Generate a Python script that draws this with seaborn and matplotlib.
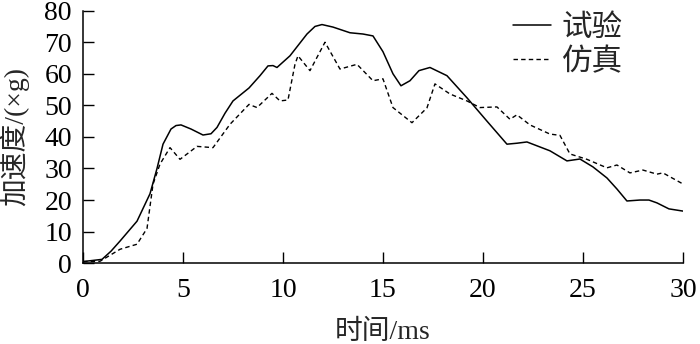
import matplotlib
matplotlib.use("Agg")
import matplotlib.pyplot as plt
import seaborn as sns

# 试验 (test) curve
t_test = [0, 0.95, 1.4, 1.85, 2.7, 3.35, 3.7, 4.0, 4.4, 4.65, 4.9, 5.4, 6.0, 6.4,
          6.7, 7.1, 7.5, 8.3, 8.85, 9.25, 9.5, 9.7, 10.35, 11.2, 11.6, 11.95, 12.5,
          13.35, 14.0, 14.5, 15.0, 15.5, 15.9, 16.35, 16.8, 17.35, 18.2, 19.2, 20.2,
          21.2, 21.7, 22.2, 23.35, 24.2, 24.85, 25.5, 26.2, 26.7, 27.2, 27.85, 28.3,
          28.7, 29.3, 30]
a_test = [0.5, 1.2, 3.8, 7, 13.3, 22, 30, 37.7, 42.5, 43.6, 43.8, 42.5, 40.6, 41,
          43, 47.5, 51.4, 55.5, 59.4, 62.5, 62.6, 62, 65.7, 72.6, 75, 75.6, 74.8,
          73, 72.6, 72, 67, 60, 56.2, 57.8, 61, 62, 59.4, 52.4, 45,
          37.7, 38, 38.4, 35.6, 32.4, 33, 30.5, 27, 23.5, 19.7, 20, 20,
          19.1, 17.2, 16.5]

# 仿真 (simulation) curve
t_sim = [0, 0.85, 1.85, 2.7, 3.2, 3.5, 3.85, 4.35, 4.85, 5.7, 6.5, 7.35, 8.3, 8.7,
         9.45, 9.85, 10.25, 10.6, 10.75, 11.35, 12.1, 12.85, 13.7, 14.5, 15.0, 15.5,
         16.45, 17.2, 17.6, 18.35, 19.2, 19.85, 20.7, 21.35, 21.7, 22.35, 23.35,
         23.85, 24.35, 25.2, 26.2, 26.7, 27.35, 28.0, 28.7, 29.0, 30]
a_sim = [0.5, 0.6, 4.4, 6, 11, 25, 31.4, 36.6, 32.9, 37, 36.6, 44, 50.3, 49.3,
         53.8, 51.4, 51.7, 63, 65.7, 61, 70, 61.5, 63, 57.8, 58.4, 49.3,
         44.5, 49.2, 56.8, 53.6, 51.4, 49.3, 49.5, 45.6, 47, 43.8, 40.9,
         40.5, 34.6, 32.9, 30.2, 31.1, 28.6, 29.5, 28.2, 28.6, 25.1]

x_ticks = [0, 5, 10, 15, 20, 25, 30]
y_ticks = [0, 10, 20, 30, 40, 50, 60, 70, 80]

sns.set_style("ticks")
plt.rcParams['font.family'] = ['Liberation Serif', 'Noto Sans CJK SC']
plt.rcParams['axes.unicode_minus'] = False

fig = plt.figure(figsize=(7, 3.44), dpi=100)
ax = fig.add_axes([0.1186, 0.235, 0.857, 0.734])

sns.lineplot(x=t_test, y=a_test, ax=ax, color='black', linewidth=1.1,
             label='试验', sort=False)
sns.lineplot(x=t_sim, y=a_sim, ax=ax, color='black', linewidth=1.0,
             label='仿真', sort=False)
ax.lines[1].set_dashes([3.2, 2.3])

ax.set_xlim(0, 30)
ax.set_ylim(0, 80)
ax.set_xticks(x_ticks)
ax.set_yticks(y_ticks)
ax.tick_params(direction='in', length=8, width=1, labelsize=20, colors='black')
ax.tick_params(axis='x', pad=11)
ax.tick_params(axis='y', pad=8)
for s in ['top', 'right']:
    ax.spines[s].set_visible(False)
for s in ['left', 'bottom']:
    ax.spines[s].set_linewidth(1.1)
    ax.spines[s].set_color('black')

ax.set_xlabel('时间/ms', fontsize=20, labelpad=12)
ax.set_ylabel('加速度/(×g)', fontsize=20, labelpad=11)

leg = ax.legend(loc='upper right', bbox_to_anchor=(0.945, 1.095), frameon=False,
                fontsize=22, handlelength=1.25, handletextpad=0.33, labelspacing=0.15)
leg.get_lines()[1].set_dashes([3.2, 2.3])

plt.savefig('out.png', dpi=100)
